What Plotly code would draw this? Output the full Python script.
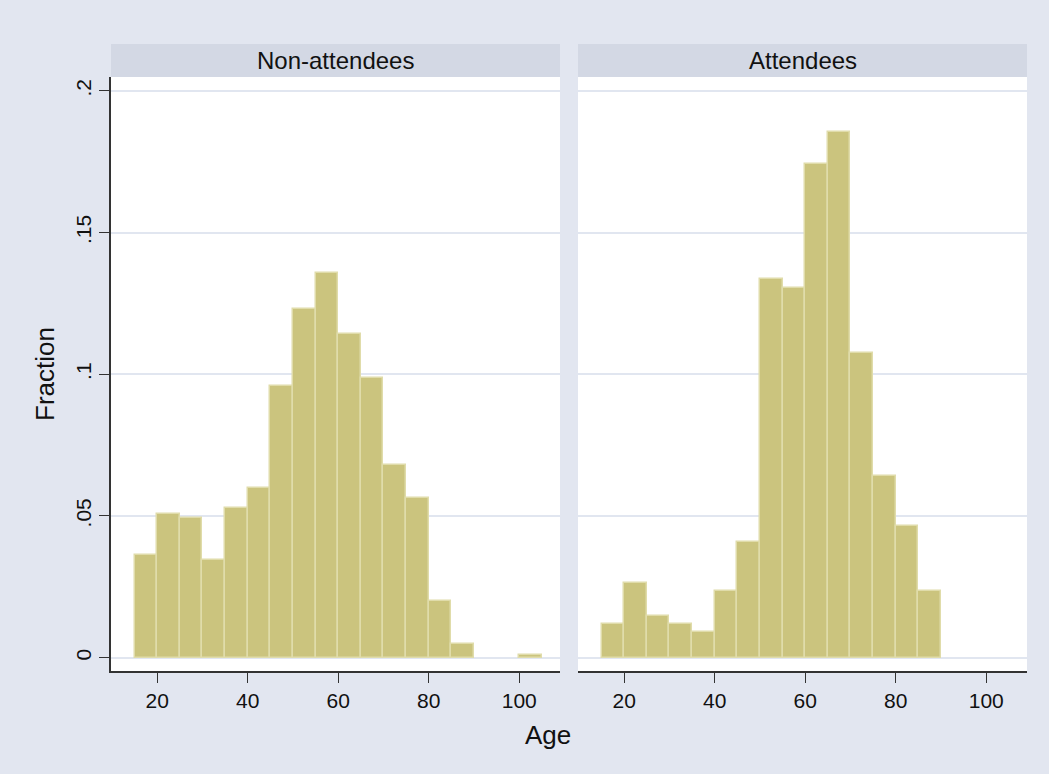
import plotly.graph_objects as go

# ---- data ----
bin_left = [15, 20, 25, 30, 35, 40, 45, 50, 55, 60, 65, 70, 75, 80, 85, 90, 95, 100]
bin_width = 5
non_attendees = [0.0362, 0.0508, 0.0492, 0.0345, 0.0527, 0.0600, 0.0960, 0.1232, 0.1357,
                 0.1141, 0.0988, 0.0681, 0.0564, 0.0199, 0.0047, 0.0, 0.0, 0.0010]
attendees = [0.0118, 0.0264, 0.0147, 0.0118, 0.0090, 0.0236, 0.0408, 0.1335, 0.1305,
             0.1741, 0.1854, 0.1075, 0.0641, 0.0466, 0.0236, 0.0, 0.0, 0.0]
panel_titles = ["Non-attendees", "Attendees"]
y_ticks = [0, 0.05, 0.1, 0.15, 0.2]
y_ticklabels = ["0", ".05", ".1", ".15", ".2"]
x_ticks = [20, 40, 60, 80, 100]

W, H = 1049, 774
L, R, T, B = 111, 22, 77, 103
pw = W - L - R
ph = H - T - B

def px_x(px):
    return (px - L) / pw

def px_y(py):
    return (H - B - py) / ph

bar_fill = "#cbc47e"
bar_line = "#e0dcaa"
grid = "#e1e6f0"
bg = "#e2e6f0"
strip = "#d3d8e4"
axis_col = "#333333"
font_fam = "Arial, Liberation Sans, sans-serif"

fig = go.Figure()
for i, vals in enumerate([non_attendees, attendees]):
    xs = [b + bin_width / 2 for b, v in zip(bin_left, vals) if v > 0]
    ys = [v for v in vals if v > 0]
    fig.add_trace(go.Bar(
        x=xs, y=ys, width=[bin_width] * len(xs),
        marker=dict(color=bar_fill, line=dict(color=bar_line, width=1.5)),
        xaxis="x" if i == 0 else "x2", yaxis="y" if i == 0 else "y2",
        showlegend=False, hoverinfo="x+y",
    ))

dom_left = [0, px_x(560)]
dom_right = [px_x(578), 1]

xcommon = dict(range=[9.8, 109.0], tickmode="array", tickvals=x_ticks,
               ticks="outside", ticklen=10, tickwidth=1.2, tickcolor=axis_col,
               showline=True, linecolor=axis_col, linewidth=1.5,
               showgrid=False, zeroline=False,
               tickfont=dict(family=font_fam, size=21, color="#111111"))
ycommon = dict(range=[-0.0047, 0.2049], tickmode="array", tickvals=y_ticks,
               showgrid=True, gridcolor=grid, gridwidth=1.5, zeroline=False)

fig.update_layout(
    width=W, height=H,
    margin=dict(l=L, r=R, t=T, b=B, pad=0),
    paper_bgcolor=bg, plot_bgcolor="white",
    bargap=0,
    xaxis=dict(domain=dom_left, anchor="y", **xcommon),
    xaxis2=dict(domain=dom_right, anchor="y2", **xcommon),
    yaxis=dict(domain=[0, 1], anchor="x", ticktext=y_ticklabels,
               ticks="outside", ticklen=10, tickwidth=1.2, tickcolor=axis_col,
               showline=True, linecolor=axis_col, linewidth=1.5,
               tickangle=-90,
               tickfont=dict(family=font_fam, size=21, color="#111111"),
               **ycommon),
    yaxis2=dict(domain=[0, 1], anchor="x2", showticklabels=False, ticks="",
                showline=False, **ycommon),
    font=dict(family=font_fam, color="#111111"),
)

shapes = []
annotations = []
for dom, title in zip([dom_left, dom_right], panel_titles):
    shapes.append(dict(type="rect", xref="paper", yref="paper",
                       x0=dom[0], x1=dom[1], y0=px_y(77), y1=px_y(44),
                       fillcolor=strip, line=dict(width=0), layer="below"))
    annotations.append(dict(text=title, xref="paper", yref="paper",
                            x=(dom[0] + dom[1]) / 2, y=px_y(60.5),
                            xanchor="center", yanchor="middle", showarrow=False,
                            font=dict(family=font_fam, size=24, color="#111111")))

annotations.append(dict(text="Fraction", xref="paper", yref="paper",
                        x=px_x(45), y=px_y(374), textangle=-90,
                        xanchor="center", yanchor="middle", showarrow=False,
                        font=dict(family=font_fam, size=26, color="#111111")))
annotations.append(dict(text="Age", xref="paper", yref="paper",
                        x=px_x(548), y=px_y(735),
                        xanchor="center", yanchor="middle", showarrow=False,
                        font=dict(family=font_fam, size=26, color="#111111")))

fig.update_layout(shapes=shapes, annotations=annotations)

fig.write_html("out.html", config={"displayModeBar": False})

# remove default page margin so the figure fills the window
with open("out.html", "r", encoding="utf-8") as f:
    html = f.read()
html = html.replace("<head>", "<head><style>html,body{margin:0;padding:0;background:%s;}</style>" % bg, 1)
with open("out.html", "w", encoding="utf-8") as f:
    f.write(html)
